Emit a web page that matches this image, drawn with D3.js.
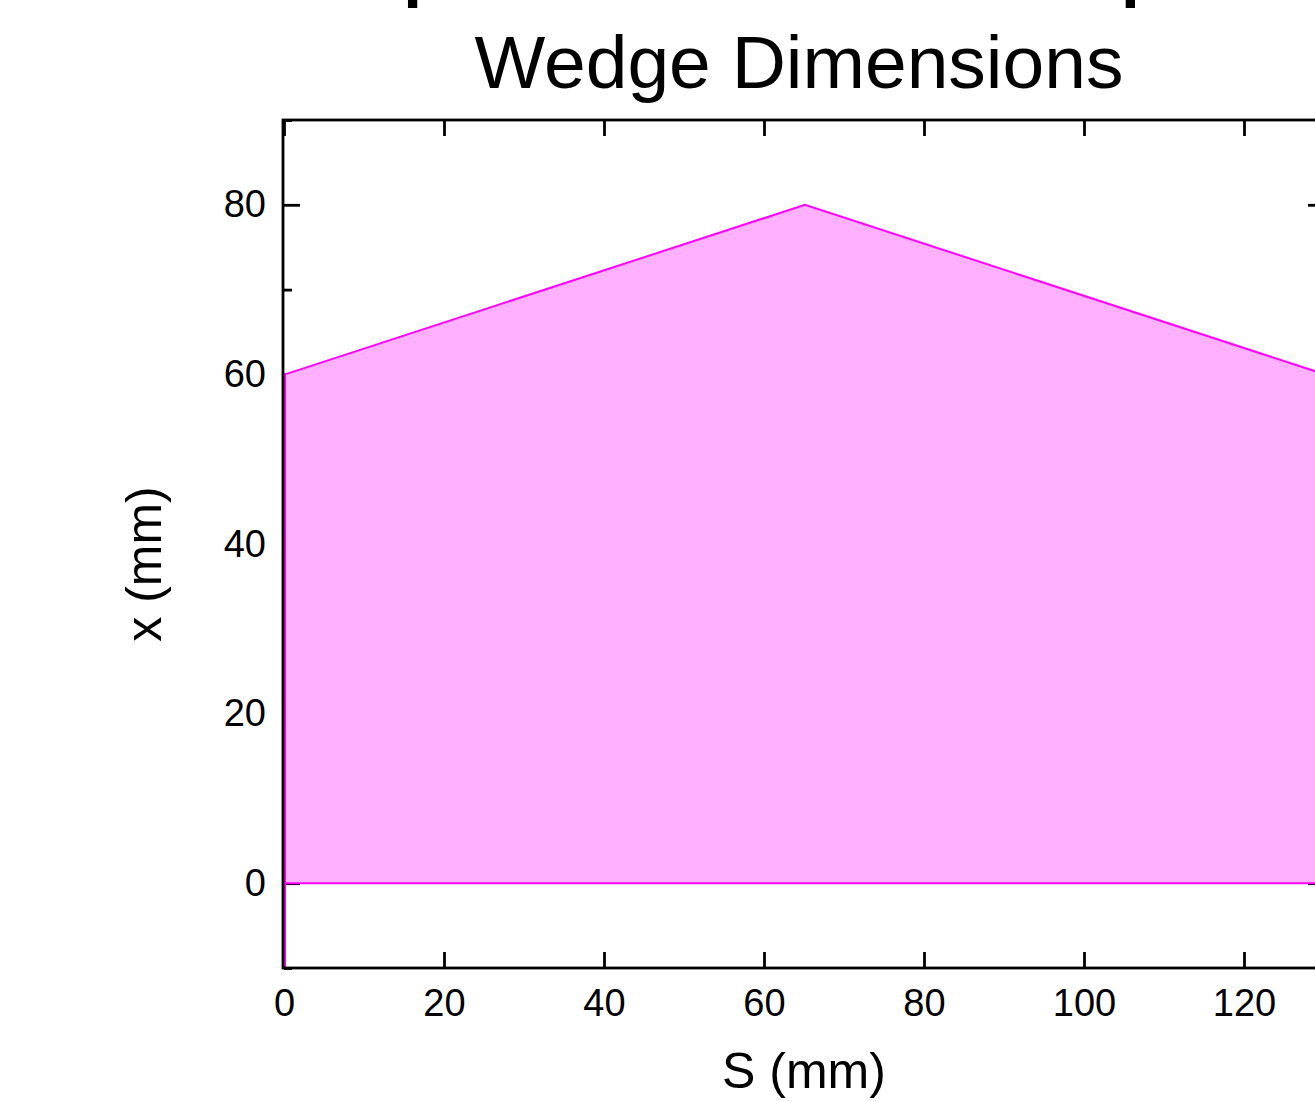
<!DOCTYPE html>
<html>
<head>
<meta charset="utf-8">
<script src="https://cdn.jsdelivr.net/npm/d3@7"></script>
<style>
  html, body { margin: 0; padding: 0; background: #fff; overflow: hidden; }
  svg { display: block; font-family: "Liberation Sans", Arial, sans-serif; }
</style>
</head>
<body>
<svg id="chart" width="1315" height="1101"></svg>
<script>
// ---- data ----
const titleText = "Sample Cross-Section Shape";
const subtitleText = "Wedge Dimensions";
const xAxisTitle = "S (mm)";
const yAxisTitle = "x (mm)";
const xDomain = [0, 130];
const yDomain = [-10, 90];
const xTickValues = [0, 20, 40, 60, 80, 100, 120];
const yTickValues = [0, 20, 40, 60, 80];
const yMinorTickValues = [-10, 10, 30, 50, 70, 90];
// wedge outline (S, x)
const outlineS = [0, 0, 65, 130, 130, 0];
const outlineX = [-10, 60, 80, 60, 0, 0];
// filled region
const fillS = [0, 0, 65, 130, 130];
const fillX = [0, 60, 80, 60, 0];

const lineColor = "#ff00ff";
const fillColor = "#ffb0ff";

const svg = d3.select("#chart");
const pL = 284, pR = 1324, pT = 120, pB = 968;
const x = d3.scaleLinear().domain(xDomain).range([pL, pR]);
const y = d3.scaleLinear().domain(yDomain).range([pB, pT]);

// clip
svg.append("defs").append("clipPath").attr("id", "plotclip")
  .append("rect").attr("x", pL).attr("y", pT).attr("width", pR - pL).attr("height", pB - pT);

const FONT = "Liberation Sans, Arial, sans-serif";
const SW = 2.8;
// bottom axis
svg.append("g").attr("transform", `translate(0,${pB})`)
  .call(d3.axisBottom(x).tickValues(xTickValues).tickSize(-16).tickSizeOuter(0))
  .call(g => g.select(".domain").remove())
  .call(g => g.selectAll(".tick line").attr("stroke-width", SW))
  .call(g => g.selectAll(".tick text").attr("font-size", 38).attr("fill", "#000").attr("dy", "0.71em").attr("y", 21).attr("font-family", FONT));
// top axis
svg.append("g").attr("transform", `translate(0,${pT})`)
  .call(d3.axisTop(x).tickValues(xTickValues).tickSize(-16).tickSizeOuter(0).tickFormat(""))
  .call(g => g.select(".domain").remove())
  .call(g => g.selectAll(".tick line").attr("stroke-width", SW));
// left axis
svg.append("g").attr("transform", `translate(${pL},0)`)
  .call(d3.axisLeft(y).tickValues(yTickValues).tickSize(-16).tickSizeOuter(0))
  .call(g => g.select(".domain").remove())
  .call(g => g.selectAll(".tick line").attr("stroke-width", SW))
  .call(g => g.selectAll(".tick text").attr("font-size", 38).attr("fill", "#000").attr("x", -18).attr("font-family", FONT));
svg.append("g").attr("transform", `translate(${pL},0)`)
  .call(d3.axisLeft(y).tickValues(yMinorTickValues).tickSize(-8).tickSizeOuter(0).tickFormat(""))
  .call(g => g.select(".domain").remove())
  .call(g => g.selectAll(".tick line").attr("stroke-width", SW));
// right axis
svg.append("g").attr("transform", `translate(${pR},0)`)
  .call(d3.axisRight(y).tickValues(yTickValues).tickSize(-16).tickSizeOuter(0).tickFormat(""))
  .call(g => g.select(".domain").remove())
  .call(g => g.selectAll(".tick line").attr("stroke-width", SW));
svg.append("g").attr("transform", `translate(${pR},0)`)
  .call(d3.axisRight(y).tickValues(yMinorTickValues).tickSize(-8).tickSizeOuter(0).tickFormat(""))
  .call(g => g.select(".domain").remove())
  .call(g => g.selectAll(".tick line").attr("stroke-width", SW));

// data
const plot = svg.append("g").attr("clip-path", "url(#plotclip)");
const fillPts = fillS.map((s, i) => [s, fillX[i]]);
const outPts = outlineS.map((s, i) => [s, outlineX[i]]);
plot.append("path")
  .attr("d", d3.line().x(d => x(d[0])).y(d => y(d[1]))(fillPts) + "Z")
  .attr("fill", fillColor).attr("stroke", "none");

// frame
svg.append("rect").attr("x", pL - 1).attr("y", pT).attr("width", pR - pL + 1).attr("height", pB - pT)
  .attr("fill", "none").attr("stroke", "#000").attr("stroke-width", SW);

plot.append("path")
  .attr("d", d3.line().x(d => x(d[0]) + 1).y(d => y(d[1]))(outPts))
  .attr("fill", "none").attr("stroke", lineColor).attr("stroke-width", 2).attr("stroke-linejoin", "miter");

// axis titles
svg.append("text").attr("x", 804).attr("y", 1088).attr("text-anchor", "middle")
  .attr("font-size", 50).attr("fill", "#000").text(xAxisTitle);
svg.append("text").attr("transform", "translate(161,564) rotate(-90)").attr("text-anchor", "middle")
  .attr("font-size", 50).attr("fill", "#000").text(yAxisTitle);

// subtitle
svg.append("text").attr("x", 799).attr("y", 88).attr("text-anchor", "middle")
  .attr("font-size", 75).attr("fill", "#000").text(subtitleText);

// main title (mostly off the top edge; only descenders visible)
const t = svg.append("text").attr("font-weight", "bold").attr("fill", "#000")
  .attr("font-size", 70).attr("x", 0).attr("y", -200).text(titleText);
const node = t.node();
const i1 = titleText.indexOf("p"), i2 = titleText.lastIndexOf("p");
let fs = 70;
const d0 = node.getStartPositionOfChar(i2).x - node.getStartPositionOfChar(i1).x;
if (d0 > 0) fs = 70 * 718 / d0;
t.attr("font-size", fs);
const p1 = node.getStartPositionOfChar(i1).x;
t.attr("x", 408 - 0.07 * fs - p1).attr("y", 8 - 0.21 * fs);
</script>
</body>
</html>
